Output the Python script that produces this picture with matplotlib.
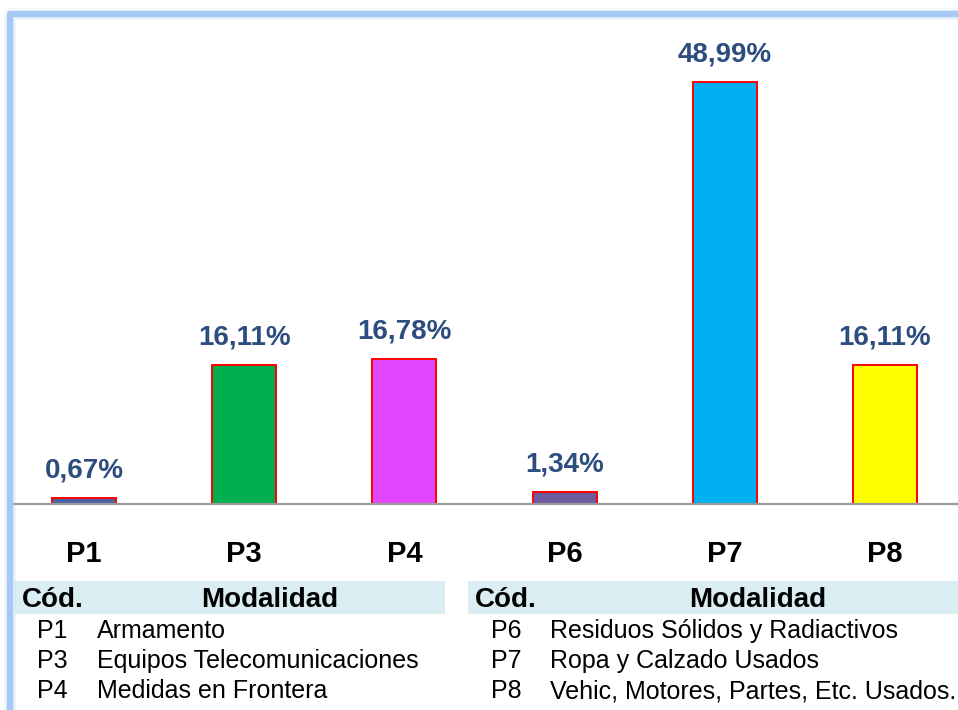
"""
Participacion por modalidad (P1..P8) -- barras con porcentaje encima
y tabla de codigos debajo.
"""
import matplotlib

matplotlib.use("Agg")
import matplotlib.pyplot as plt
from matplotlib.lines import Line2D
from matplotlib.patches import Rectangle

# -----------------------------------------------------------------------------
# Datos
# -----------------------------------------------------------------------------
codigos = ["P1", "P3", "P4", "P6", "P7", "P8"]
porcentajes = [0.67, 16.11, 16.78, 1.34, 48.99, 16.11]
colores = ["#4c62a2", "#00b050", "#e246ff", "#6c5b9e", "#00b0f0", "#ffff00"]

codigos_izq = ["P1", "P3", "P4"]
nombres_izq = ["Armamento", "Equipos Telecomunicaciones", "Medidas en Frontera"]
codigos_der = ["P6", "P7", "P8"]
nombres_der = [
    "Residuos Sólidos y Radiactivos",
    "Ropa y Calzado Usados",
    "Vehic, Motores, Partes, Etc. Usados.",
]

# -----------------------------------------------------------------------------
# Lienzo (todo en pixeles, origen arriba-izquierda -> fraccion de figura)
# -----------------------------------------------------------------------------
W, H = 958, 710
SANS = ["Liberation Sans", "DejaVu Sans"]
AZUL_TXT = "#2d4d7f"
BORDE = "#a6c8f4"


def fx(x):
    return x / W


def fy(y):
    return 1 - y / H


fig = plt.figure(figsize=(W / 100, H / 100), dpi=100)
fig.patch.set_facecolor("white")

ax = fig.add_axes([fx(13), fy(504), 1 - fx(13), (504 - 16) / H])
x = range(len(codigos))
bars = ax.bar(
    x, porcentajes, width=0.40, color=colores, edgecolor="#ff0000", linewidth=1.4
)
ax.set_xlim(-0.443, 5.456)
ax.set_ylim(0, 56.65)

etiquetas = [f"{v:.2f}%".replace(".", ",") for v in porcentajes]
ax.bar_label(
    bars,
    labels=etiquetas,
    padding=10.5,
    color=AZUL_TXT,
    fontsize=20,
    fontweight="bold",
    family=SANS,
)

ax.set_xticks(list(x), codigos)
ax.tick_params(axis="x", length=0, pad=26)
for lbl in ax.get_xticklabels():
    lbl.set_fontsize(21)
    lbl.set_fontweight("bold")
    lbl.set_family(SANS)
ax.set_yticks([])
for lado in ("top", "left", "right"):
    ax.spines[lado].set_visible(False)
ax.spines["bottom"].set_color("#9a9a9a")
ax.spines["bottom"].set_linewidth(1.6)

# -----------------------------------------------------------------------------
# Tabla de codigos (dos bloques)
# -----------------------------------------------------------------------------
for x0, x1 in [(15, 445), (468, 958)]:
    fig.add_artist(
        Rectangle(
            (fx(x0), fy(614)),
            fx(x1) - fx(x0),
            (614 - 581) / H,
            transform=fig.transFigure,
            facecolor="#daedf3",
            edgecolor="none",
        )
    )

bloques = [
    (22, 270, 37, 97, codigos_izq, nombres_izq),
    (475, 758, 491, 550, codigos_der, nombres_der),
]
for x_cod, x_mod, x_c, x_n, cods, noms in bloques:
    fig.text(fx(x_cod), fy(607), "Cód.", fontsize=20, fontweight="bold",
             family=SANS, va="baseline", ha="left")
    fig.text(fx(x_mod), fy(607), "Modalidad", fontsize=20, fontweight="bold",
             family=SANS, va="baseline", ha="center")
    for i, (c, n) in enumerate(zip(cods, noms)):
        yb = 638 + 30 * i
        fig.text(fx(x_c), fy(yb), c, fontsize=18, family=SANS,
                 va="baseline", ha="left")
        fig.text(fx(x_n), fy(yb), n, fontsize=18, family=SANS,
                 va="baseline", ha="left")

# -----------------------------------------------------------------------------
# Marco celeste con halo (solo arriba e izquierda)
# -----------------------------------------------------------------------------
marco_x = [fx(10), fx(10), fx(970)]
marco_y = [fy(730), fy(13.5), fy(13.5)]
for lw, a in [(12, 0.12), (9, 0.25)]:
    fig.add_artist(
        Line2D(marco_x, marco_y, transform=fig.transFigure, color=BORDE,
               linewidth=lw * 0.72, alpha=a, solid_joinstyle="round")
    )
fig.add_artist(
    Line2D(marco_x, marco_y, transform=fig.transFigure, color=BORDE,
           linewidth=6 * 0.72, solid_joinstyle="round")
)

fig.savefig("out.png", dpi=100)
